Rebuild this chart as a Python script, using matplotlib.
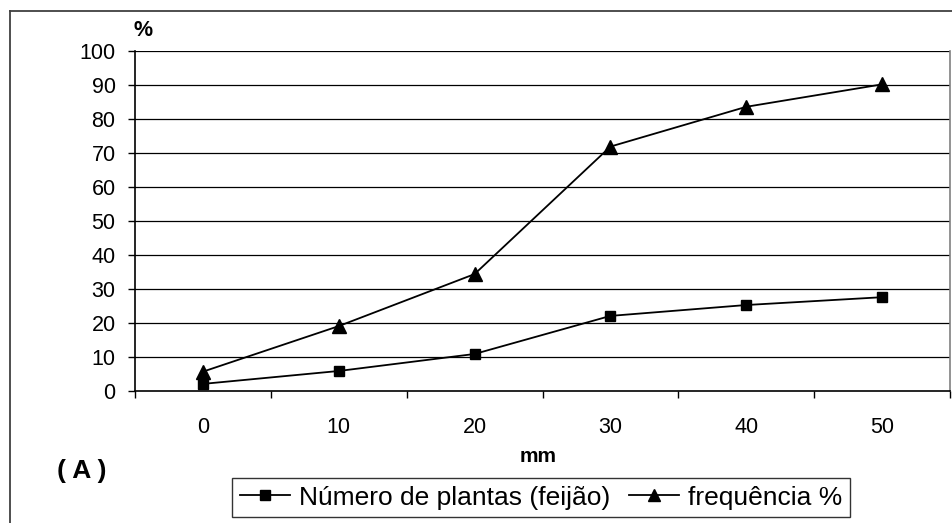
import matplotlib.pyplot as plt
from matplotlib.lines import Line2D

# --- data ---
categorias = ["0", "10", "20", "30", "40", "50"]
num_plantas = [2.0, 5.8, 10.8, 22.0, 25.2, 27.5]
frequencia = [5.6, 19.0, 34.3, 71.8, 83.5, 90.1]
yticks = [0, 10, 20, 30, 40, 50, 60, 70, 80, 90, 100]

plt.rcParams['font.family'] = ['Liberation Sans', 'DejaVu Sans']

W, H = 953, 523
fig = plt.figure(figsize=(W / 100, H / 100), dpi=100)
fig.patch.set_facecolor("white")

# plot area in pixels: left 135, right 950, top 50.7, bottom 390.7
ax = fig.add_axes([135 / W, 1 - 390.7 / H, (950 - 135) / W, (390.7 - 50.7) / H])

x = [i + 0.5 for i in range(len(categorias))]
ax.plot(x, num_plantas, color="black", lw=1.3, marker="s", ms=7.5,
        label="Número de plantas (feijão)")
ax.plot(x, frequencia, color="black", lw=1.3, marker="^", ms=9.5,
        label="frequência %")

ax.set_xlim(0, len(categorias))
ax.set_ylim(0, 100)
ax.set_yticks(yticks)
ax.set_yticklabels([str(v) for v in yticks], fontsize=15.5)
ax.set_xticks(range(len(categorias) + 1))
ax.set_xticklabels([])
ax.set_xticks(x, minor=True)
ax.set_xticklabels(categorias, minor=True, fontsize=15.5)
ax.tick_params(axis="x", which="minor", length=0, pad=19)
ax.tick_params(axis="x", which="major", length=5, width=1, direction="out")
ax.tick_params(axis="y", length=5, width=1, direction="out", pad=9)

for v in yticks[1:]:
    ax.axhline(v, color="black", lw=0.9, zorder=0)

ax.spines["left"].set_linewidth(1.2)
ax.spines["bottom"].set_linewidth(1.2)
ax.spines["top"].set_visible(False)
ax.spines["right"].set_color("#808080")
ax.spines["right"].set_linewidth(1.2)

fig.text(538 / W, 1 - 457 / H, "mm", fontsize=15, fontweight="bold",
         ha="center", va="center")
fig.text(143 / W, 1 - 30.5 / H, "%", fontsize=15.5, fontweight="bold",
         ha="center", va="center")
fig.text(82 / W, 1 - 471 / H, "( A )", fontsize=19, fontweight="bold",
         ha="center", va="center")

leg = fig.legend(loc="center", bbox_to_anchor=(541 / W, 1 - 497.5 / H),
                 ncol=2, fontsize=19, frameon=True, fancybox=False,
                 edgecolor="black", handlelength=1.9, handletextpad=0.35,
                 columnspacing=0.7, borderpad=0.3, borderaxespad=0,
                 markerscale=0.9)
leg.get_frame().set_linewidth(1.0)

# outer chart border
fig.add_artist(Line2D([10 / W, 10 / W], [0, 1 - 11 / H], color="#404040", lw=1.3,
                      transform=fig.transFigure))
fig.add_artist(Line2D([10 / W, 1], [1 - 11 / H, 1 - 11 / H], color="#404040", lw=1.3,
                      transform=fig.transFigure))

fig.savefig("out.png", dpi=100)
